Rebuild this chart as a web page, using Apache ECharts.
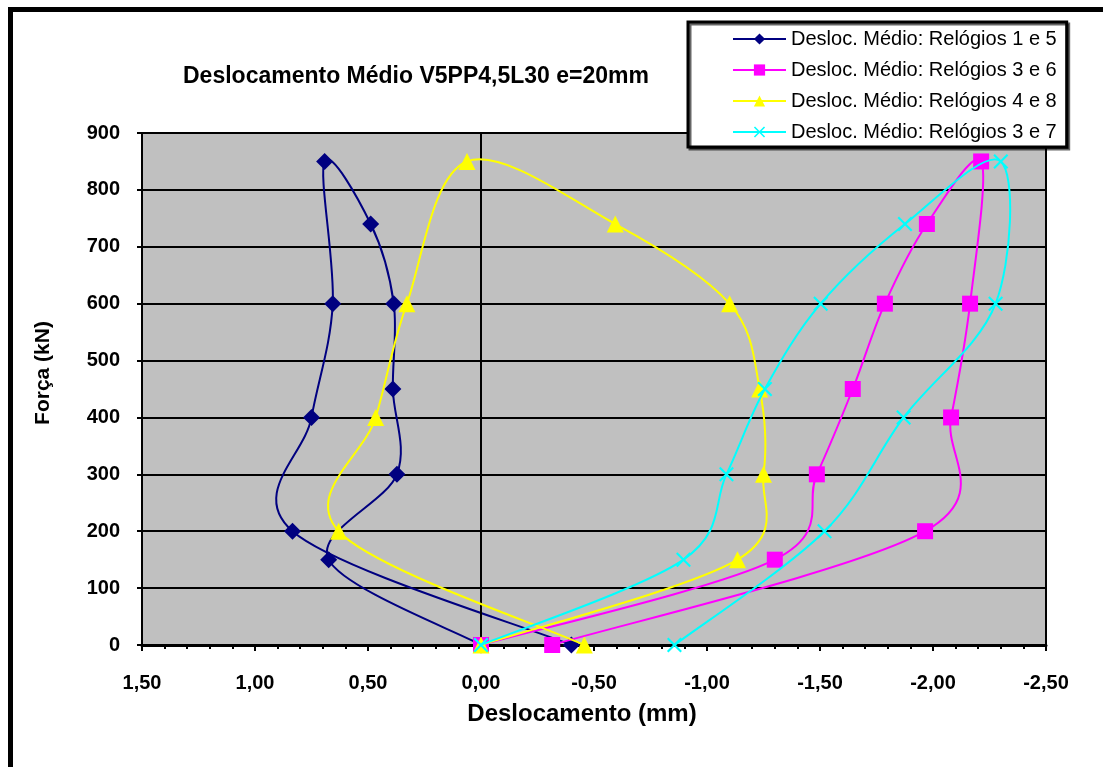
<!DOCTYPE html>
<html>
<head>
<meta charset="utf-8">
<script src="https://cdn.jsdelivr.net/npm/echarts@6/dist/echarts.min.js"></script>
<style>html,body{margin:0;padding:0;background:#fff}#c{width:1103px;height:767px}</style>
</head>
<body>
<div id="c"></div>
<script>
const seriesNames = [
  'Desloc. Médio: Relógios 1 e 5',
  'Desloc. Médio: Relógios 3 e 6',
  'Desloc. Médio: Relógios 4 e 8',
  'Desloc. Médio: Relógios 3 e 7'
];
const forceLevels = [0, 150, 300, 450, 600, 740, 850, 600, 400, 200, 0];
const disp15 = [0, 0.674, 0.372, 0.39, 0.386, 0.488, 0.692, 0.656, 0.75, 0.834, -0.40];
const disp36 = [0, -1.30, -1.486, -1.645, -1.787, -1.973, -2.213, -2.164, -2.08, -1.965, -0.315];
const disp48 = [0, -1.135, -1.25, -1.233, -1.10, -0.594, 0.062, 0.328, 0.466, 0.63, -0.457];
const disp37 = [0, -0.896, -1.086, -1.256, -1.503, -1.876, -2.30, -2.277, -1.87, -1.52, -0.856];
const xTicks = { min: -2.5, max: 1.5, interval: 0.5 };
const yTicks = { min: 0, max: 900, interval: 100 };

const colors = ['#000080', '#FF00FF', '#FFFF00', '#00FFFF'];
const crossPath = 'path://M0,1 L1,0 L5,4 L9,0 L10,1 L6,5 L10,9 L9,10 L5,6 L1,10 L0,9 L4,5 Z';
const symbols = ['diamond', 'rect', 'triangle', crossPath];
const symbolSizes = [17, 16, 17, 15];
const allDisp = [disp15, disp36, disp48, disp37];
const fmt = v => v.toFixed(2).replace('.', ',');
const font = '"Liberation Sans", Arial, sans-serif';

// Catmull-Rom style smoothing (Excel-like) on pixel points obtained from the axes
function smoothCurves(pts, color) {
  const children = [];
  const n = pts.length;
  for (let i = 0; i < n - 1; i++) {
    const p0 = pts[i - 1] || pts[i];
    const p1 = pts[i];
    const p2 = pts[i + 1];
    const p3 = pts[i + 2] || pts[i + 1];
    children.push({
      type: 'bezierCurve',
      shape: {
        x1: p1[0], y1: p1[1],
        cpx1: p1[0] + (p2[0] - p0[0]) / 6, cpy1: p1[1] + (p2[1] - p0[1]) / 6,
        cpx2: p2[0] - (p3[0] - p1[0]) / 6, cpy2: p2[1] - (p3[1] - p1[1]) / 6,
        x2: p2[0], y2: p2[1]
      },
      style: { fill: null, stroke: color, lineWidth: 2, lineCap: 'round' }
    });
  }
  return { type: 'group', children: children };
}

const series = [];
allDisp.forEach((d, i) => {
  const pairs = d.map((x, k) => [x, forceLevels[k]]);
  series.push({
    name: seriesNames[i] + ' ',
    type: 'custom',
    coordinateSystem: 'cartesian2d',
    data: pairs,
    clip: false,
    z: 3 + 2 * i,
    renderItem: (params, api) => {
      if (params.dataIndex !== 0) return null;
      const pts = pairs.map(p => api.coord(p));
      return smoothCurves(pts, colors[i]);
    },
    markLine: i === 0 ? {
      silent: true, symbol: 'none', animation: false,
      label: { show: false },
      lineStyle: { color: '#000', width: 2, type: 'solid' },
      data: [{ xAxis: 0 }]
    } : undefined
  });
  series.push({
    name: seriesNames[i],
    type: 'line',
    data: pairs,
    symbol: symbols[i],
    symbolSize: symbolSizes[i],
    lineStyle: { color: colors[i], width: 2, opacity: 0 },
    itemStyle: { color: colors[i] },
    z: 4 + 2 * i
  });
});

const chart = echarts.init(document.getElementById('c'), null, { renderer: 'canvas' });
chart.setOption({
  animation: false,
  backgroundColor: '#fff',
  textStyle: { fontFamily: font },
  title: {
    text: 'Deslocamento Médio V5PP4,5L30 e=20mm',
    left: 178, top: 60,
    textStyle: { fontFamily: font, fontSize: 23, fontWeight: 'bold', color: '#000' }
  },
  legend: {
    orient: 'vertical',
    left: 688, top: 22, width: 400,
    padding: [7, 10, 5, 44],
    itemWidth: 53, itemHeight: 14, itemGap: 11,
    backgroundColor: '#fff',
    borderColor: '#000', borderWidth: 3,
    shadowColor: 'rgba(0,0,0,0.6)', shadowOffsetX: 2, shadowOffsetY: 2, shadowBlur: 0,
    textStyle: { fontFamily: font, fontSize: 20, color: '#000', lineHeight: 20 },
    data: seriesNames.map((n, i) => ({
      name: n,
      lineStyle: { color: colors[i], width: 2, opacity: 1 }
    }))
  },
  grid: {
    left: 142, right: 57, top: 133, bottom: 122,
    show: true, backgroundColor: '#C0C0C0', borderColor: '#000', borderWidth: 2
  },
  xAxis: {
    type: 'value', inverse: true,
    min: xTicks.min, max: xTicks.max, interval: xTicks.interval,
    name: 'Deslocamento (mm)', nameLocation: 'middle', nameGap: 57,
    nameTextStyle: { fontFamily: font, fontSize: 24, fontWeight: 'bold', color: '#000', padding: [0, 24, 0, 0] },
    axisLine: { onZero: false, lineStyle: { color: '#000', width: 3 } },
    axisTick: { show: true, length: 6, lineStyle: { color: '#000', width: 2 } },
    minorTick: { show: true, splitNumber: 5, length: 4, lineStyle: { color: '#000', width: 2 } },
    splitLine: { show: false },
    axisLabel: { formatter: fmt, margin: 28, fontFamily: font, fontSize: 20, fontWeight: 'bold', color: '#000' }
  },
  yAxis: {
    type: 'value',
    min: yTicks.min, max: yTicks.max, interval: yTicks.interval,
    name: 'Força (kN)', nameLocation: 'middle', nameGap: 88,
    nameTextStyle: { fontFamily: font, fontSize: 21, fontWeight: 'bold', color: '#000', padding: [0, 0, 0, 32] },
    axisLine: { show: true, onZero: false, lineStyle: { color: '#000', width: 2 } },
    axisTick: { show: true, length: 5, lineStyle: { color: '#000', width: 2 } },
    splitLine: { show: true, lineStyle: { color: '#000', width: 2 } },
    axisLabel: { margin: 22, fontFamily: font, fontSize: 20, fontWeight: 'bold', color: '#000' }
  },
  graphic: [{
    type: 'rect', silent: true, z: 100,
    shape: { x: 10.5, y: 9.5, width: 1200, height: 900 },
    style: { fill: 'none', stroke: '#000', lineWidth: 5 }
  }],
  series: series
});
</script>
</body>
</html>
